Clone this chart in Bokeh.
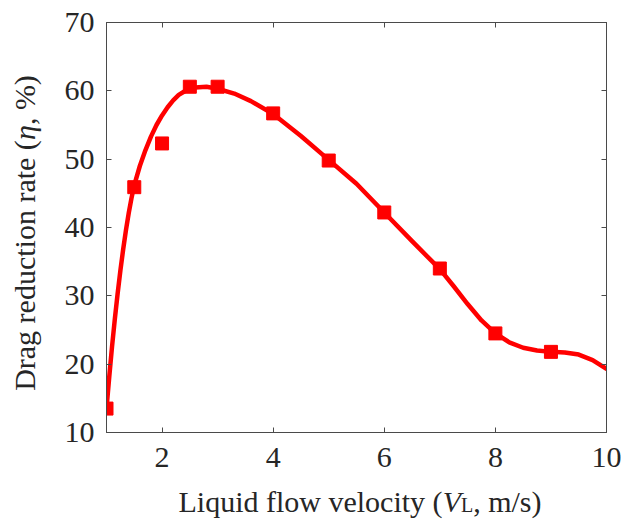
import math
from bokeh.plotting import figure
from bokeh.models import Range1d, LinearAxis, FixedTicker, Label, CustomJSTickFormatter
from bokeh.layouts import row, column
from bokeh.embed import file_html
from bokeh.resources import INLINE

# ---- data ----
velocity = [1.0, 1.5, 2.0, 2.5, 3.0, 4.0, 5.0, 6.0, 7.0, 8.0, 9.0]
drag_reduction = [13.5, 45.9, 52.3, 60.6, 60.6, 56.7, 49.8, 42.2, 34.0, 24.5, 21.8]

# smooth fitted curve
fit_velocity = [1.0, 1.05, 1.1, 1.15, 1.2, 1.25, 1.3, 1.35, 1.4, 1.45, 1.5, 1.6, 1.7,
                1.8, 1.9, 2.0, 2.1, 2.2, 2.3, 2.4, 2.5, 2.6, 2.8, 3.0, 3.3, 3.6,
                4.0, 4.5, 5.0, 5.5, 6.0, 6.5, 7.0, 7.25, 7.5, 7.75, 8.0, 8.25,
                8.5, 8.75, 9.0, 9.25, 9.5, 9.75, 10.0]
fit_drag = [13.5, 18.2, 22.6, 26.6, 30.3, 33.7, 36.8, 39.6, 42.1, 44.3, 46.2, 49.0,
            51.3, 53.3, 55.0, 56.4, 57.6, 58.6, 59.4, 59.9, 60.3, 60.5, 60.6, 60.3,
            59.6, 58.5, 56.6, 53.4, 49.9, 46.4, 42.2, 38.0, 33.9, 31.4, 28.8, 26.4,
            24.5, 23.2, 22.4, 22.0, 21.8, 21.7, 21.4, 20.6, 19.3]

x_ticks = [2, 4, 6, 8, 10]
y_ticks = [10, 20, 30, 40, 50, 60, 70]

FONT = "Liberation Serif"
FS = 30
AXIS_COLOR = "#4a4a4a"
TEXT_COLOR = "#262626"
RED = "#ff0000"

PAGE_W, PAGE_H = 624, 521
YLAB_W = 60            # strip holding the y title
MAIN_H = 484           # main chart height; x title strip below it
FL, FR, FT, FB = 106, 606, 22, 432   # frame edges on the page
BASE_SHIFT = 0.37      # measured offset of the label anchor vs. text baseline (em)

main = figure(width=PAGE_W - YLAB_W, height=MAIN_H, output_backend="svg",
              toolbar_location=None, x_range=Range1d(1, 10), y_range=Range1d(10, 70),
              min_border_left=FL - YLAB_W, min_border_right=PAGE_W - FR,
              min_border_top=FT, min_border_bottom=MAIN_H - FB, frame_align=False)
main.grid.visible = False
main.background_fill_color = "white"
main.border_fill_color = "white"
main.outline_line_color = AXIS_COLOR
main.outline_line_width = 1

main.line(fit_velocity, fit_drag, line_color=RED, line_width=4.5, line_join="round",
          line_cap="round")
main.scatter(velocity, drag_reduction, marker="square", size=13, fill_color=RED,
             line_color=RED)

for ax, ticks in ((main.xaxis[0], x_ticks), (main.yaxis[0], y_ticks)):
    ax.ticker = FixedTicker(ticks=ticks)
    ax.minor_tick_line_color = None
    ax.major_tick_in = 5
    ax.major_tick_out = 0
    ax.axis_line_color = AXIS_COLOR
    ax.major_tick_line_color = AXIS_COLOR
    ax.major_label_text_font = FONT
    ax.major_label_text_font_size = f"{FS}px"
    ax.major_label_text_color = TEXT_COLOR
    ax.axis_label = None
main.xaxis[0].major_label_standoff = 15
main.yaxis[0].major_label_standoff = 12

# mirrored axes (ticks only) on top and right
blank = CustomJSTickFormatter(code="return ''")
top = LinearAxis(ticker=FixedTicker(ticks=x_ticks), formatter=blank,
                 major_tick_in=5, major_tick_out=0, minor_tick_line_color=None,
                 axis_line_color=AXIS_COLOR, major_tick_line_color=AXIS_COLOR,
                 major_label_standoff=0, major_label_text_font_size="1px")
right = LinearAxis(ticker=FixedTicker(ticks=y_ticks), formatter=blank,
                   major_tick_in=5, major_tick_out=0, minor_tick_line_color=None,
                   axis_line_color=AXIS_COLOR, major_tick_line_color=AXIS_COLOR,
                   major_label_standoff=0, major_label_text_font_size="1px")
main.add_layout(top, "above")
main.add_layout(right, "right")


def strip(w, h):
    f = figure(width=w, height=h, output_backend="svg", toolbar_location=None,
               x_range=Range1d(0, w), y_range=Range1d(0, h),
               x_axis_location=None, y_axis_location=None, min_border=0,
               frame_align=False)
    f.grid.visible = False
    f.outline_line_color = None
    f.background_fill_color = "white"
    f.border_fill_color = "white"
    return f


W_REG = {"L": 611, "i": 278, "q": 500, "u": 500, "d": 500, " ": 250, "f": 333,
         "l": 278, "o": 500, "w": 722, "v": 500, "e": 444, "c": 444, "t": 278,
         "y": 500, "(": 333, ")": 333, ",": 250, "m": 778, "/": 278, "s": 389,
         "D": 722, "r": 333, "a": 444, "g": 500, "n": 500, "%": 833}
W_ITA = {"V": 611, "η": 500}


def width(txt, size, italic=False):
    table = W_ITA if italic else W_REG
    return sum(table.get(ch, 500) for ch in txt) * size / 1000.0


def piece(f, x, y, t, s, it, angle=0.0):
    f.add_layout(Label(x=x, y=y, text=t, angle=angle,
                       text_font=FONT, text_font_size=f"{s}px",
                       text_font_style="italic" if it else "normal",
                       text_color=TEXT_COLOR, text_align="left",
                       text_baseline="alphabetic"))


# x title strip (page x 0..624, page y MAIN_H..521); baseline at page y 512
XLAB_H = PAGE_H - MAIN_H
xfig = strip(PAGE_W, XLAB_H)
x_parts = [("Liquid flow velocity (", FS, False),
           ("V", FS, True),
           ("L", 20, False),
           (", m/s)", FS, False)]
total = sum(width(t, s, it) for t, s, it in x_parts)
pos = 359.5 - total / 2
for t, s, it in x_parts:
    base_page_y = 512 - BASE_SHIFT * s
    piece(xfig, pos, PAGE_H - base_page_y, t, s, it)
    pos += width(t, s, it)

# y title strip (page x 0..YLAB_W, page y 0..MAIN_H); baseline at page x 35
yfig = strip(YLAB_W, MAIN_H)
y_parts = [("Drag reduction rate (", FS, False),
           ("η", FS, True),
           (", %)", FS, False)]
total = sum(width(t, s, it) for t, s, it in y_parts)
pos = 232.5 + total / 2          # page y of the start (bottom) of the title
for t, s, it in y_parts:
    piece(yfig, 35 - BASE_SHIFT * s, MAIN_H - pos, t, s, it, angle=math.pi / 2)
    pos -= width(t, s, it)

layout = column(row(yfig, main, spacing=0), xfig, spacing=0)

open("out.html", "w").write(file_html(layout, INLINE))
